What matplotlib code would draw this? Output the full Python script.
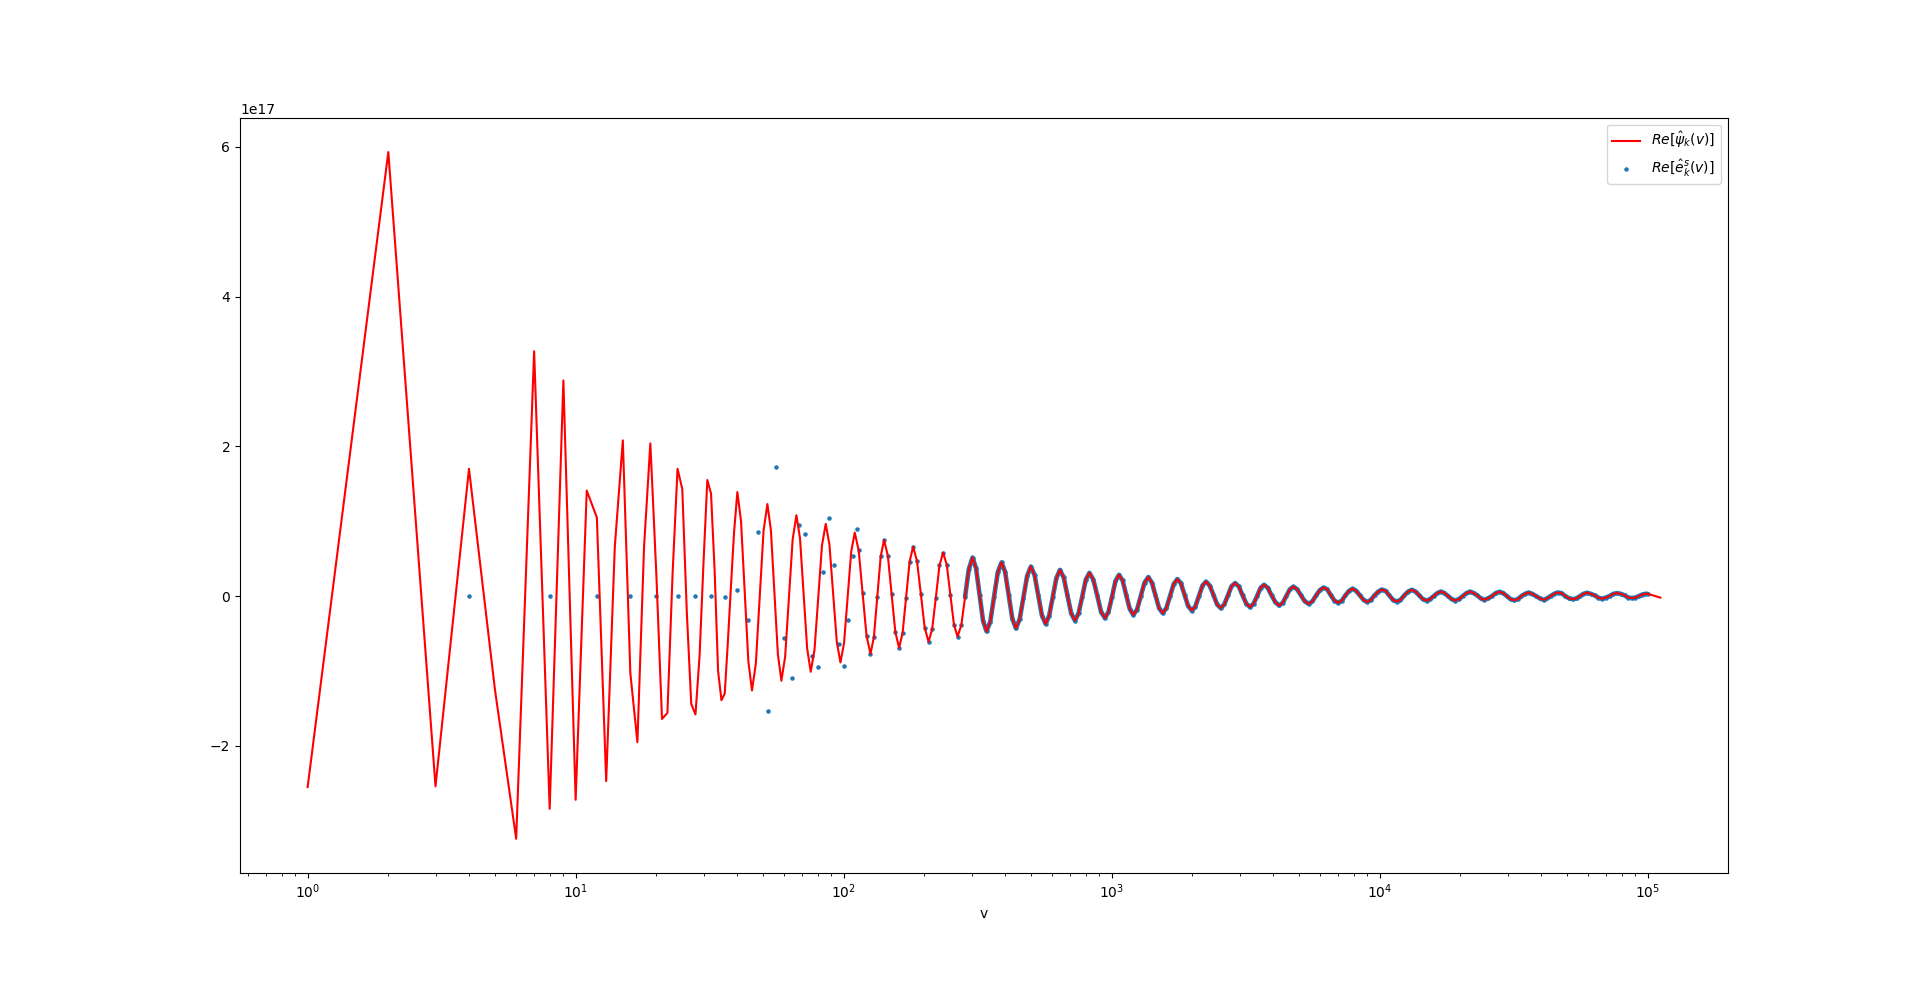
import numpy as np
import matplotlib.pyplot as plt

# values in units of 1e17

# low v: curve sampled at every integer, every kink visible
v_int = np.arange(1, 40)
psi_int = [-2.55, 5.93, -2.54, 1.70, -1.25, -3.24, 3.27, -2.84, 2.88, -2.72,
           1.41, 1.05, -2.47, 0.66, 2.08, -1.03, -1.95, 0.66, 2.04, 0.30,
           -1.64, -1.56, 0.30, 1.70, 1.43, -0.23, -1.44, -1.58, -0.80, 0.45,
           1.55, 1.37, 0.35, -1.00, -1.39, -1.30, -0.60, 0.15, 0.85]

# v >= 40: smooth oscillation, positions given as log10(v)
logv_osc = [
    1.6034, 1.6171, 1.6307, 1.6444, 1.6580, 1.6724, 1.6868, 1.7011,
    1.7155, 1.7286, 1.7416, 1.7547, 1.7677, 1.7817, 1.7958, 1.8098,
    1.8238, 1.8372, 1.8505, 1.8639, 1.8772, 1.8912, 1.9052, 1.9192,
    1.9332, 1.9469, 1.9607, 1.9744, 1.9881, 2.0014, 2.0148, 2.0281,
    2.0414, 2.0561, 2.0708, 2.0854, 2.1001, 2.1128, 2.1255, 2.1382,
    2.1509, 2.1649, 2.1789, 2.1929, 2.2069, 2.2200, 2.2331, 2.2461,
    2.2592, 2.2736, 2.2880, 2.3023, 2.3167, 2.3303, 2.3440, 2.3576,
    2.3712, 2.3847, 2.3981, 2.4116, 2.4250, 2.4390, 2.4530, 2.4670,
    2.4810, 2.4941, 2.5071, 2.5202, 2.5332, 2.5472, 2.5612, 2.5752,
    2.5892, 2.6026, 2.6160, 2.6293, 2.6427, 2.6567, 2.6707, 2.6847,
    2.6987, 2.7124, 2.7262, 2.7399, 2.7536, 2.7670, 2.7803, 2.7937,
    2.8070, 2.8210, 2.8350, 2.8490, 2.8630, 2.8765, 2.8901, 2.9036,
    2.9171, 2.9316, 2.9461, 2.9605, 2.9750, 2.9881, 3.0012, 3.0142,
    3.0273, 3.0407, 3.0540, 3.0674, 3.0807, 3.0947, 3.1087, 3.1227,
    3.1367, 3.1501, 3.1636, 3.1770, 3.1904, 3.2041, 3.2177, 3.2314,
    3.2450, 3.2584, 3.2719, 3.2853, 3.2987, 3.3121, 3.3254, 3.3388,
    3.3521, 3.3658, 3.3796, 3.3933, 3.4070, 3.4204, 3.4337, 3.4471,
    3.4604, 3.4744, 3.4884, 3.5024, 3.5164, 3.5295, 3.5426, 3.5556,
    3.5687, 3.5827, 3.5967, 3.6107, 3.6247, 3.6381, 3.6514, 3.6648,
    3.6781, 3.6923, 3.7065, 3.7207, 3.7349, 3.7489, 3.7629, 3.7769,
    3.7909, 3.8044, 3.8180, 3.8315, 3.8450, 3.8586, 3.8721, 3.8857,
    3.8992, 3.9127, 3.9263, 3.9398, 3.9533, 3.9670, 3.9808, 3.9945,
    4.0082, 4.0220, 4.0359, 4.0497, 4.0635, 4.0777, 4.0919, 4.1060,
    4.1202, 4.1339, 4.1475, 4.1612, 4.1748, 4.1882, 4.2017, 4.2151,
    4.2285, 4.2419, 4.2552, 4.2686, 4.2819, 4.2959, 4.3099, 4.3239,
    4.3379, 4.3510, 4.3641, 4.3771, 4.3902, 4.4045, 4.4188, 4.4331,
    4.4474, 4.4611, 4.4748, 4.4885, 4.5022, 4.5156, 4.5289, 4.5423,
    4.5556, 4.5696, 4.5836, 4.5976, 4.6116, 4.6247, 4.6378, 4.6508,
    4.6639, 4.6783, 4.6927, 4.7070, 4.7214, 4.7345, 4.7476, 4.7606,
    4.7737, 4.7877, 4.8017, 4.8157, 4.8297, 4.8437, 4.8577, 4.8717,
    4.8857, 4.8997, 4.9137, 4.9277, 4.9417, 4.9541, 4.9666, 4.9790,
    4.9914, 5.0000, 5.0200, 5.0474]
psi_osc = [
    1.39, 1.00, 0.07, -0.87, -1.26, -0.90, -0.02, 0.87,
    1.23, 0.88, 0.05, -0.78, -1.13, -0.81, -0.03, 0.76,
    1.08, 0.77, 0.04, -0.70, -1.01, -0.72, -0.02, 0.68,
    0.965, 0.69, 0.04, -0.61, -0.886, -0.63, -0.02, 0.59,
    0.849, 0.61, 0.04, -0.53, -0.77, -0.55, -0.01, 0.53,
    0.75, 0.54, 0.03, -0.48, -0.69, -0.49, -0.02, 0.46,
    0.66, 0.47, 0.03, -0.42, -0.61, -0.44, -0.02, 0.41,
    0.58, 0.42, 0.02, -0.38, -0.54, -0.39, -0.01, 0.36,
    0.515, 0.37, 0.02, -0.33, -0.47, -0.34, -0.01, 0.32,
    0.45, 0.32, 0.01, -0.30, -0.43, -0.31, -0.02, 0.27,
    0.395, 0.28, 0.01, -0.26, -0.37, -0.26, -0.01, 0.24,
    0.35, 0.25, 0.01, -0.23, -0.326, -0.23, -0.01, 0.22,
    0.31, 0.22, 0.01, -0.21, -0.294, -0.21, -0.01, 0.20,
    0.284, 0.21, 0.02, -0.17, -0.25, -0.18, 0.00, 0.18,
    0.254, 0.18, 0.01, -0.16, -0.227, -0.16, 0.00, 0.16,
    0.227, 0.17, 0.02, -0.13, -0.192, -0.14, 0.00, 0.14,
    0.195, 0.14, 0.02, -0.11, -0.16, -0.11, 0.01, 0.13,
    0.174, 0.13, 0.01, -0.10, -0.147, -0.10, 0.00, 0.11,
    0.151, 0.11, 0.01, -0.08, -0.125, -0.09, 0.00, 0.09,
    0.128, 0.09, 0.01, -0.07, -0.103, -0.07, 0.01, 0.08,
    0.115, 0.09, 0.01, -0.06, -0.088, -0.06, 0.01, 0.07,
    0.10, 0.07, 0.01, -0.05, -0.078, -0.05, 0.01, 0.06,
    0.088, 0.07, 0.01, -0.05, -0.072, -0.05, 0.01, 0.06,
    0.084, 0.06, 0.01, -0.04, -0.06, -0.04, 0.00, 0.04,
    0.061, 0.04, 0.00, -0.04, -0.059, -0.04, 0.00, 0.04,
    0.061, 0.04, 0.01, -0.03, -0.05, -0.03, 0.00, 0.04,
    0.058, 0.04, 0.00, -0.04, -0.055, -0.04, 0.00, 0.03,
    0.048, 0.03, 0.00, -0.03, -0.05, -0.03, 0.00, 0.03,
    0.048, 0.04, 0.00, -0.03, -0.04, -0.03, 0.00, 0.03,
    0.045, 0.03, 0.01, -0.02, -0.035, -0.02, 0.00, 0.03,
    0.04, 0.03, 0.01, -0.02, -0.025, -0.02, 0.00, 0.02,
    0.031, 0.03, 0.01, -0.02]

# scatter at v = 4, 8, ..., 112 (before it settles onto the curve)
v_dots = np.arange(4, 113, 4)
e_dots = [0.0, 0.0, 0.0, 0.0, 0.0, 0.0, 0.0, 0.0, -0.01, 0.08,
          -0.32, 0.85, -1.54, 1.73, -0.56, -1.09, 0.95, 0.83, -0.80, -0.94,
          0.32, 1.04, 0.42, -0.64, -0.93, -0.32, 0.54, 0.89]

scale = 1e17
logv_osc = np.array(logv_osc)
psi_osc = np.array(psi_osc)

v_line = np.concatenate([v_int, 10 ** logv_osc])
psi_line = np.concatenate([psi_int, psi_osc]) * scale

# beyond v=112 the scatter sits on the curve, up to v=1e5
on_curve = (logv_osc > np.log10(112)) & (logv_osc <= 5.0)
dense = (logv_osc >= 2.45) & (logv_osc <= 5.0)
v_sc = np.concatenate([v_dots, 10 ** logv_osc[on_curve]])
e_sc = np.concatenate([e_dots, psi_osc[on_curve]]) * scale

fig, ax = plt.subplots(figsize=(19.2, 9.81), dpi=100)
ax.plot(v_line, psi_line, color='red', label=r'$Re[\hat{\psi}_k(v)]$')
ax.scatter(v_sc, e_sc, s=5, label=r'$Re[\hat{e}^s_k(v)]$')
# where the dots are packed tighter than their size they merge into a band
ax.plot(10 ** logv_osc[dense], psi_osc[dense] * scale, color='C0',
        linewidth=3.3, solid_capstyle='round', zorder=1.5)
ax.set_xscale('log')
ax.set_xlabel('v')
ax.legend(loc='upper right')
plt.savefig('out.png')
plt.close()
